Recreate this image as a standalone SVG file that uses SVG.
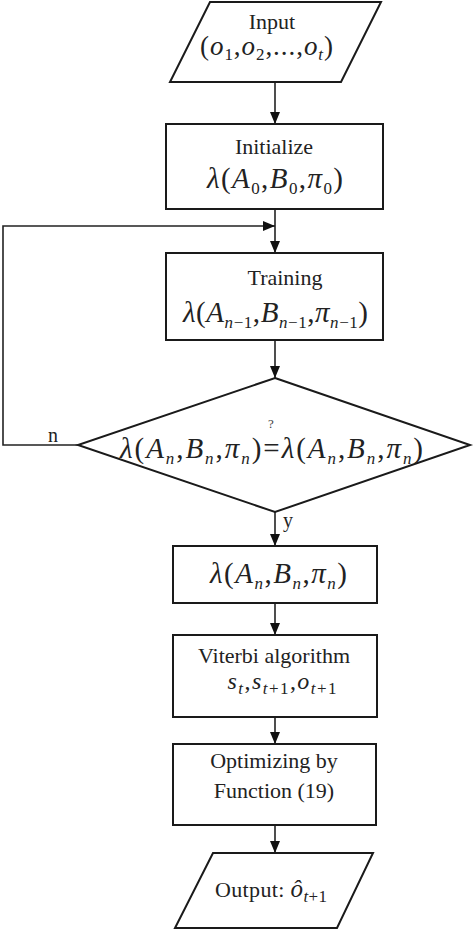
<svg xmlns="http://www.w3.org/2000/svg" width="474" height="931" viewBox="0 0 474 931">
<defs>
<style>
.shape{fill:#fff;stroke:#1a1a1a;stroke-width:2}
.ln{fill:none;stroke:#222;stroke-width:1.6}
.t{font-family:"Liberation Serif","Times New Roman",serif;font-size:22px;fill:#222;text-anchor:middle}
.m{font-family:"Liberation Serif","Times New Roman",serif;font-size:29px;fill:#222;text-anchor:middle}
.i{font-style:italic}
.s{font-size:17px}
.lbl{font-family:"Liberation Serif","Times New Roman",serif;font-size:20px;fill:#222}
</style>
<marker id="ah" markerUnits="userSpaceOnUse" markerWidth="12" markerHeight="10" refX="12" refY="5" orient="auto">
<path d="M0,0 L12,5 L0,10 z" fill="#111"/>
</marker>
</defs>
<rect width="474" height="931" fill="#fff"/>
<g id="connectors">
<line class="ln" x1="275" y1="82" x2="275" y2="124" marker-end="url(#ah)"/>
<line class="ln" x1="275" y1="209" x2="275" y2="253" marker-end="url(#ah)"/>
<polyline class="ln" points="78,445 3,445 3,226 275,226" marker-end="url(#ah)" stroke="#444"/>
<line class="ln" x1="275" y1="340" x2="275" y2="378" marker-end="url(#ah)"/>
<line class="ln" x1="275" y1="512" x2="275" y2="546" marker-end="url(#ah)"/>
<line class="ln" x1="275" y1="603" x2="275" y2="635" marker-end="url(#ah)"/>
<line class="ln" x1="275" y1="717" x2="275" y2="744" marker-end="url(#ah)"/>
<line class="ln" x1="275" y1="825" x2="275" y2="853" marker-end="url(#ah)"/>
<text class="lbl" x="48" y="442">n</text>
<text class="lbl" x="283" y="527">y</text>
</g>
<g id="input">
<polygon class="shape" points="210,2 381,2 341,82 170,82"/>
<text class="t" x="272" y="29">Input</text>
<text class="m" x="266.5" y="55" textLength="133" lengthAdjust="spacing" style="font-size:27px">(<tspan class="i">o</tspan><tspan class="s" dy="5">1</tspan><tspan dy="-5">,</tspan><tspan class="i">o</tspan><tspan class="s" dy="5">2</tspan><tspan dy="-5">,...,</tspan><tspan class="i">o</tspan><tspan class="s i" dy="5">t</tspan><tspan dy="-5">)</tspan></text>
</g>
<g id="initialize">
<rect class="shape" x="166" y="124" width="217" height="85"/>
<text class="t" x="274" y="154">Initialize</text>
<text class="m" x="275" y="188" textLength="136" lengthAdjust="spacing"><tspan class="i">λ</tspan>(<tspan class="i">A</tspan><tspan class="s" dy="6">0</tspan><tspan dy="-6">,</tspan><tspan class="i">B</tspan><tspan class="s" dy="6">0</tspan><tspan dy="-6">,</tspan><tspan class="i">π</tspan><tspan class="s" dy="6">0</tspan><tspan dy="-6">)</tspan></text>
</g>
<g id="training">
<rect class="shape" x="166" y="253" width="217" height="87"/>
<text class="t" x="285" y="285">Training</text>
<text class="m" x="275.5" y="322" textLength="185" lengthAdjust="spacing"><tspan class="i">λ</tspan>(<tspan class="i">A</tspan><tspan class="s" dy="6"><tspan class="i">n</tspan>−1</tspan><tspan dy="-6">,</tspan><tspan class="i">B</tspan><tspan class="s" dy="6"><tspan class="i">n</tspan>−1</tspan><tspan dy="-6">,</tspan><tspan class="i">π</tspan><tspan class="s" dy="6"><tspan class="i">n</tspan>−1</tspan><tspan dy="-6">)</tspan></text>
</g>
<g id="decision">
<polygon class="shape" points="275,378 470,445 275,512 78,445"/>
<text class="lbl" x="268" y="428" style="font-size:13px;fill:#444">?</text>
<text class="m" x="271.5" y="458" textLength="303" lengthAdjust="spacing"><tspan class="i">λ</tspan>(<tspan class="i">A</tspan><tspan class="s i" dy="6">n</tspan><tspan dy="-6">,</tspan><tspan class="i">B</tspan><tspan class="s i" dy="6">n</tspan><tspan dy="-6">,</tspan><tspan class="i">π</tspan><tspan class="s i" dy="6">n</tspan><tspan dy="-6">)=</tspan><tspan class="i">λ</tspan>(<tspan class="i">A</tspan><tspan class="s i" dy="6">n</tspan><tspan dy="-6">,</tspan><tspan class="i">B</tspan><tspan class="s i" dy="6">n</tspan><tspan dy="-6">,</tspan><tspan class="i">π</tspan><tspan class="s i" dy="6">n</tspan><tspan dy="-6">)</tspan></text>
</g>
<g id="model">
<rect class="shape" x="173" y="546" width="204" height="57"/>
<text class="m" x="278.5" y="583" textLength="137" lengthAdjust="spacing"><tspan class="i">λ</tspan>(<tspan class="i">A</tspan><tspan class="s i" dy="6">n</tspan><tspan dy="-6">,</tspan><tspan class="i">B</tspan><tspan class="s i" dy="6">n</tspan><tspan dy="-6">,</tspan><tspan class="i">π</tspan><tspan class="s i" dy="6">n</tspan><tspan dy="-6">)</tspan></text>
</g>
<g id="viterbi">
<rect class="shape" x="173" y="635" width="204" height="82"/>
<text class="t" x="274" y="663">Viterbi algorithm</text>
<text class="m" x="282" y="689" textLength="109" lengthAdjust="spacing" style="font-size:24px"><tspan class="i">s</tspan><tspan class="s i" dy="5">t</tspan><tspan dy="-5">,</tspan><tspan class="i">s</tspan><tspan class="s" dy="5"><tspan class="i">t</tspan>+1</tspan><tspan dy="-5">,</tspan><tspan class="i">o</tspan><tspan class="s" dy="5"><tspan class="i">t</tspan>+1</tspan></text>
</g>
<g id="optimizing">
<rect class="shape" x="173" y="744" width="203" height="81"/>
<text class="t" x="274" y="768">Optimizing by</text>
<text class="t" x="274" y="798">Function (19)</text>
</g>
<g id="output">
<polygon class="shape" points="213,853 373,853 337,928 175,928"/>
<text class="t" x="271" y="897" textLength="112" lengthAdjust="spacing">Output:  <tspan class="i" style="font-size:25px">ô</tspan><tspan class="s" dy="5"><tspan class="i">t</tspan>+1</tspan></text>
</g>
</svg>
